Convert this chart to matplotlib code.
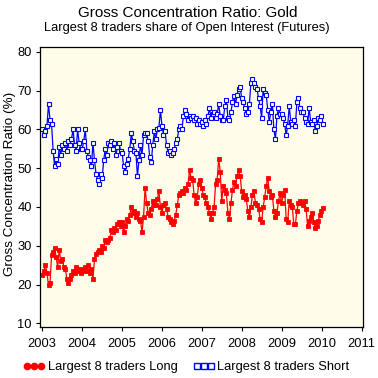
import numpy as np
import pandas as pd
import matplotlib
matplotlib.use("Agg")
import matplotlib.pyplot as plt
import matplotlib.dates as mdates
from matplotlib.lines import Line2D
from datetime import datetime

plt.rcParams['font.family'] = ['Liberation Sans', 'DejaVu Sans']

# largest 8 traders, % of open interest (bi-weekly)
long_2003 = [22.5, 23.5, 25, 23, 19.8, 20.5, 27.5, 28.5, 29.5, 27, 24.5, 29, 26,
             26.5, 24.5, 24, 21.5, 20.5, 21.5, 22.5, 23.5, 23, 24.5, 24, 23.5, 23]
long_2004 = [24, 23.5, 24.5, 23.5, 25, 23, 24, 21.5, 26.5, 28, 28.5, 29, 28.5,
             30, 29.5, 31.5, 31, 31.5, 32, 34, 33.5, 34.5, 34, 35.5, 36, 35]
long_2005 = [36, 33.5, 35, 37, 36.5, 38, 40, 38.5, 39, 37.5, 38.5, 37, 36.5,
             33.5, 37.5, 45, 41, 38.5, 38, 39.5, 41.5, 40.5, 40.5, 42, 44, 40]
long_2006 = [38.5, 40.5, 41, 39.5, 37.5, 37, 36, 35.5, 36.5, 38, 40.5, 43, 43.5,
             44, 43.5, 45, 44.5, 46, 49.5, 47.5, 47, 43, 41, 42.5, 46, 47]
long_2007 = [45, 43, 42.5, 41, 40, 38.5, 37, 38.5, 40, 46, 47, 52.5, 49,
             41.5, 45.5, 44.5, 43.5, 38.5, 37, 41, 44.5, 46.5, 45.5, 48, 49.5, 48]
long_2008 = [44, 42.5, 43, 42, 39, 37.5, 40, 43, 44, 41, 40.5, 39.5, 37,
             36, 40, 42.5, 45.5, 47.5, 44, 42.5, 43, 39, 37.5, 38.5, 41.5, 43.5]
long_2009 = [41, 43, 44.5, 37, 36, 41.5, 40.5, 40, 35.5, 35.5, 39, 41, 41.5,
             41, 40.5, 41.5, 39.5, 35, 36.5, 37.5, 38.5, 36, 34.5, 35, 36.5, 38]
long_2010 = [39, 39.7]

short_2003 = [60, 58.5, 59.5, 61, 66.5, 62.5, 61.5, 54.5, 50.5, 52.5, 51, 55.5, 53.5,
              56, 55, 56.5, 54.5, 57, 56, 57.5, 60, 56, 54.5, 60, 56.5, 55]
short_2004 = [55, 57, 60, 54.5, 53, 52, 50.5, 56.5, 52, 48.5, 47, 46, 48.5,
              47.5, 52, 55, 53.5, 56.5, 56, 57, 55, 56.5, 53.5, 55.5, 56.5, 54.5]
short_2005 = [54, 50.5, 49, 51, 52.5, 55, 59, 57, 54.5, 54, 48, 52, 56,
              53.5, 58.5, 59, 59, 57, 53, 51.5, 56, 59.5, 57.5, 60, 60.5, 65]
short_2006 = [61, 58.5, 59.5, 56, 54, 54.5, 53.5, 54, 55, 56.5, 57.5, 60, 61,
              60, 63.5, 65, 64, 62.5, 63.5, 63, 63.5, 62.5, 63, 61.5, 62.5, 61.5]
short_2007 = [62, 61, 62.5, 61.5, 63.5, 65.5, 63, 64, 64.5, 63, 64, 66.5, 63.5,
              62.5, 62.5, 66, 67.5, 63, 62.5, 64.5, 67, 68.5, 66.5, 69, 70.5, 71]
short_2008 = [68, 67, 65.5, 64, 64.5, 66.5, 72, 73, 72, 71, 70.5, 68, 66,
              63, 70.5, 69.5, 69, 65, 62, 64.5, 66.5, 60, 57.5, 63.5, 65.5, 64]
short_2009 = [64, 63, 61.5, 58.5, 61, 66, 62, 61.5, 62.5, 61, 67, 68, 65.5,
              64.5, 64.5, 63, 62, 61.5, 65.5, 62, 61.5, 62.5, 59.5, 61, 63, 62.5]
short_2010 = [63.5, 61.5]

long_vals = (long_2003 + long_2004 + long_2005 + long_2006 + long_2007
             + long_2008 + long_2009 + long_2010)
short_vals = (short_2003 + short_2004 + short_2005 + short_2006 + short_2007
              + short_2008 + short_2009 + short_2010)
dates = pd.date_range("2003-01-07", periods=len(long_vals), freq="14D")

years = list(range(2003, 2012))
yticks = [10, 20, 30, 40, 50, 60, 70, 80]

bg = "#FFFDE9"
red = "#FF0000"
blue = "#0000FF"

fig = plt.figure(figsize=(3.78, 3.78), dpi=100)
ax = fig.add_axes([0.106, 0.135, 0.855, 0.741])
ax.set_facecolor(bg)

ax.plot(dates, long_vals, color=red, lw=0.9, marker="s", ms=2.8,
        mfc=red, mec=red, mew=0.6)
ax.plot(dates, short_vals, color=blue, lw=0.9, marker="s", ms=2.8,
        mfc=bg, mec=blue, mew=0.8)

ax.set_xlim(datetime(2002, 12, 17), datetime(2011, 1, 15))
ax.set_ylim(9.05, 81.3)
ax.set_xticks([datetime(y, 1, 1) for y in years])
ax.set_xticklabels([str(y) for y in years])
ax.set_yticks(yticks)
ax.tick_params(axis="both", direction="out", length=3, width=0.8,
               labelsize=9.3)
ax.tick_params(axis="x", pad=5)
ax.tick_params(axis="y", pad=3)
for s in ax.spines.values():
    s.set_linewidth(0.9)

fig.text(0.027, 0.514, "Gross Concentration Ratio (%)", rotation=90,
         ha="center", va="center", fontsize=9.7)
fig.text(0.497, 0.966, "Gross Concentration Ratio: Gold", ha="center",
         va="center", fontsize=11)
fig.text(0.495, 0.925, "Largest 8 traders share of Open Interest (Futures)",
         ha="center", va="center", fontsize=9.3)

handles = [
    Line2D([], [], color=red, lw=1, marker="o", ms=4.5, mfc=red, mec=red),
    Line2D([], [], color=blue, lw=1, marker="s", ms=4.5, mfc="white", mec=blue),
]
fig.legend(handles, ["Largest 8 traders Long", "Largest 8 traders Short"],
           loc="center", bbox_to_anchor=(0.493, 0.029), ncol=2, frameon=False,
           numpoints=3, handlelength=1.7, handletextpad=0.2,
           columnspacing=1.2, fontsize=9.3, borderpad=0)

fig.savefig("out.png", dpi=100)
